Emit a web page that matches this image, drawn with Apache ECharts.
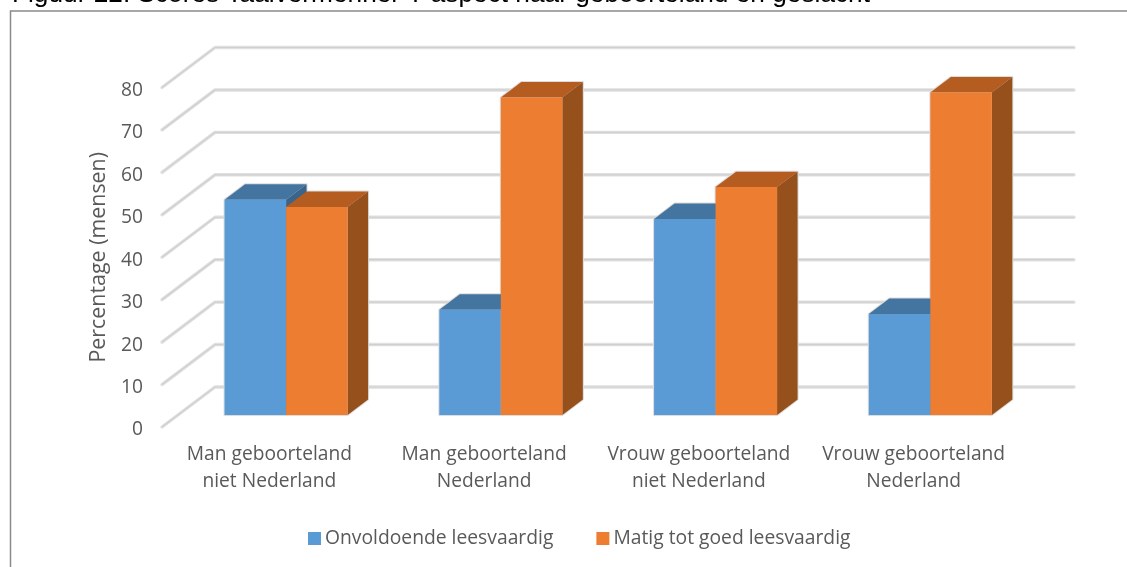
<!DOCTYPE html>
<html><head><meta charset="utf-8">
<style>html,body{margin:0;padding:0;background:#fff;overflow:hidden}#c{width:1127px;height:567px}</style>
<script src="https://cdn.jsdelivr.net/npm/echarts@6/dist/echarts.min.js"></script>
</head><body><div id="c"></div>
<script>
const categories = ['Man geboorteland\nniet Nederland','Man geboorteland\nNederland','Vrouw geboorteland\nniet Nederland','Vrouw geboorteland\nNederland'];
const onvoldoende = [50.7, 24.8, 46.2, 23.8];
const matigTotGoed = [49, 74.8, 53.7, 76];
const yTicks = [0,10,20,30,40,50,60,70,80];
const seriesNames = ['Onvoldoende leesvaardig','Matig tot goed leesvaardig'];
const titleText = 'Figuur 22. Scores Taalvermenner T aspect naar geboorteland en geslacht';

const DX = 53, DY = -40;             // full depth of the 3D floor
const T0 = 0.30, T1 = 0.687;         // bar depth range
const XFIX = 0.8;
const FONT = '"Open Sans"';
const frameColor = '#8a8a8a';

function poly(points, fill){
  return {type:'polygon', shape:{points}, style:{fill, stroke:null}};
}
function boxOf(offsetSign, params, api){
  const cat = api.value(0), v = api.value(1);
  const band = api.size([1,0])[0];
  const w = band * 0.2864;
  const top = api.coord([cat, v]), base = api.coord([cat, 0]);
  const sx = T0*DX, sy = T0*DY, ex = T1*DX, ey = T1*DY;
  const x0 = top[0] + sx + XFIX + (offsetSign<0 ? -w : 0);
  return {x0, x1:x0+w, yt:top[1]+sy, yb:base[1]+sy, dx:ex-sx, dy:ey-sy};
}
function haloItem(offsetSign){
  return function(params, api){
    const {x0,x1,yt,yb,dx,dy} = boxOf(offsetSign, params, api);
    return {type:'polygon', shape:{points:[[x0,yb],[x0,yt],[x0+dx,yt+dy],[x1+dx,yt+dy],[x1+dx,yb+dy],[x1,yb]]},
      style:{fill:'#dcdcdc', stroke:'#dcdcdc', lineWidth:2, lineJoin:'round'}};
  };
}
function barItem(offsetSign, colors){
  return function(params, api){
    const {x0,x1,yt,yb,dx,dy} = boxOf(offsetSign, params, api);
    return {type:'group', children:[
      poly([[x0,yt],[x1,yt],[x1+dx,yt+dy],[x0+dx,yt+dy]], colors.top),
      poly([[x1,yt],[x1+dx,yt+dy],[x1+dx,yb+dy],[x1,yb]], colors.side),
      poly([[x0,yt],[x1,yt],[x1,yb],[x0,yb]], colors.front)
    ]};
  };
}
function gridItem(params, api){
  const p = api.coord([0, api.value(1)]);
  const cs = params.coordSys;
  const x = cs.x, xr = cs.x + cs.width, y = p[1];
  const pts = [[x,y],[x+DX,y+DY],[xr+DX,y+DY]];
  return {type:'group', children:[
    {type:'polyline', shape:{points:pts}, style:{fill:'none', stroke:'#e0e0e0', lineWidth:3.4, lineCap:'round', lineJoin:'round'}},
    {type:'polyline', shape:{points:pts}, style:{fill:'none', stroke:'#cfcfcf', lineWidth:1.2}}
  ]};
}

const blueData = onvoldoende.map((v,i)=>[i,v]);
const orangeData = matigTotGoed.map((v,i)=>[i,v]);
const chart = echarts.init(document.getElementById('c'), null, {renderer:'canvas'});
chart.setOption({
  animation:false,
  backgroundColor:'#fff',
  title:{text:titleText, left:12, top:-18, textStyle:{fontFamily:'"Liberation Sans"', fontSize:26.25, fontWeight:'normal', color:'#000'}, padding:0},
  legend:{
    data:seriesNames, left:303, top:524, icon:'rect', itemWidth:13, itemHeight:13, itemGap:43,
    textStyle:{fontFamily:FONT, fontSize:19.3, color:'#595959', padding:[0,0,0,-1]}
  },
  grid:{left:162, right:106, top:87.5, bottom:140},
  xAxis:{type:'category', data:categories, axisLine:{show:false}, axisTick:{show:false}, splitLine:{show:false},
    axisLabel:{fontFamily:FONT, fontSize:19.2, color:'#595959', lineHeight:27, margin:14, interval:0}},
  yAxis:{type:'value', min:0, max:80, interval:10, axisLine:{show:false}, axisTick:{show:false}, splitLine:{show:false},
    axisLabel:{fontFamily:FONT, fontSize:19.2, color:'#595959', margin:19, verticalAlign:'top', lineHeight:6, formatter:v=>yTicks.includes(v)?String(v):''},
    name:'Percentage (mensen)', nameLocation:'middle', nameGap:53, nameRotate:90,
    nameTextStyle:{fontFamily:FONT, fontSize:21.4, color:'#595959'}},
  graphic:[
    {type:'polyline', silent:true, shape:{points:[[10.5,567],[10.5,11],[1127,11]]}, style:{fill:'none', stroke:frameColor, lineWidth:1.5}}
  ],
  series:[
    {type:'custom', name:'raster', silent:true, z:1, renderItem:gridItem, data:yTicks.map(v=>[0,v]), encode:{x:0,y:1}},
    {type:'custom', name:'rand1', silent:true, z:1.5, renderItem:haloItem(-1), data:blueData, encode:{x:0,y:1}},
    {type:'custom', name:'rand2', silent:true, z:1.5, renderItem:haloItem(1), data:orangeData, encode:{x:0,y:1}},
    {type:'custom', name:seriesNames[0], z:2, itemStyle:{color:'#5B9BD5'}, encode:{x:0,y:1},
      renderItem:barItem(-1,{front:'#5B9BD5',top:'#4475A0',side:'#3A6489'}), data:blueData},
    {type:'custom', name:seriesNames[1], z:3, itemStyle:{color:'#ED7D31'}, encode:{x:0,y:1},
      renderItem:barItem(1,{front:'#ED7D31',top:'#B55D21',side:'#95501B'}), data:orangeData}
  ]
});
</script></body></html>
